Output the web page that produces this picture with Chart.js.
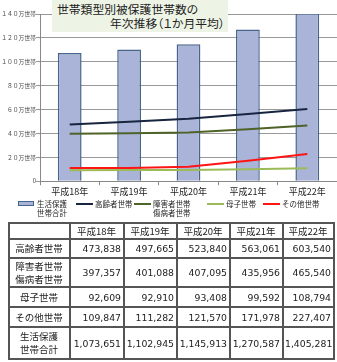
<!DOCTYPE html>
<html>
<head>
<meta charset="utf-8">
<script src="https://cdn.jsdelivr.net/npm/chart.js@4"></script>
<style>
  body { margin: 0; background: #fff; font-family: "Noto Sans CJK JP", sans-serif; }
  #wrap { position: relative; width: 337px; height: 362px; overflow: hidden; }
  #chartBox { position: absolute; left: 0; top: 0; width: 337px; height: 200px; }
  #title {
    position: absolute; left: 52px; top: 0; width: 176px; height: 32px;
    background: #edf4e6; color: #222; font-size: 11.8px; line-height: 14px;
    font-feature-settings: "palt";
  }
  #title div { position: absolute; white-space: nowrap; }
  #legend { position: absolute; left: 0; top: 199px; width: 337px; height: 24px; font-size: 7.5px; color: #222; }
  .item { position: absolute; top: 0; line-height: 9px; }
  .sw { position: absolute; top: 4px; width: 17px; height: 2px; }
  .swbar { position: absolute; top: 2px; width: 14px; height: 3px; border: 1px solid; }
  table {
    position: absolute; left: 8px; top: 222px; border-collapse: collapse; table-layout: fixed;
    border: 1px solid #000; font-size: 9.3px; color: #222;
  }
  td { border: 2px solid #555; padding: 0 2px 0 1px; overflow: hidden; white-space: nowrap; }
  td.num { text-align: right; font-family: "DejaVu Sans", sans-serif; }
  td.lab { text-align: center; font-size: 9.5px; line-height: 13px; }
  td.head { text-align: center; font-size: 9.5px; line-height: 12px; }
</style>
</head>
<body>
<div id="wrap">
  <div id="chartBox"><canvas id="kChart"></canvas></div>
  <div id="title">
    <div style="left:5px; top:2px">世帯類型別被保護世帯数の</div>
    <div style="left:58px; top:16px">年次推移（１か月平均）</div>
  </div>
  <div id="legend"></div>
  <table id="tbl"></table>
</div>
<script>
// fiscal years
const years = ["平成18年", "平成19年", "平成20年", "平成21年", "平成22年"];

// households per month (average)
const elderly = [473838, 497665, 523840, 563061, 603540];
const disabled = [397357, 401088, 407095, 435956, 465540];
const singleMother = [92609, 92910, 93408, 99592, 108794];
const others = [109847, 111282, 121570, 171978, 227407];
const total = [1073651, 1102945, 1145913, 1270587, 1405281];

const yTickLabels = ["0", "２０万世帯", "４０万世帯", "６０万世帯", "８０万世帯",
  "１００万世帯", "１２０万世帯", "１４０万世帯"];

// legend / table names
const seriesNames = [["生活保護", "世帯合計"], ["高齢者世帯"], ["障害者世帯", "傷病者世帯"], ["母子世帯"], ["その他世帯"]];
const seriesColors = ["#aab4d8", "#17253f", "#4f6228", "#9bbb59", "#ff1414"];

const lineSet = (i, data) => ({
  type: "line",
  label: seriesNames[i].join(""),
  data: data,
  borderColor: seriesColors[i],
  backgroundColor: seriesColors[i],
  borderWidth: 2,
  pointRadius: 0,
  fill: false,
  order: 1
});

const ctx = document.getElementById("kChart").getContext("2d");

new Chart(ctx, {
  type: "bar",
  data: {
    labels: years,
    datasets: [
      {
        label: seriesNames[0].join(""),
        data: total,
        backgroundColor: seriesColors[0],
        borderColor: "#47658a",
        borderWidth: { top: 1.5, left: 1.5, right: 1.5, bottom: 0 },
        barPercentage: 0.4,
        categoryPercentage: 1,
        order: 2
      },
      lineSet(1, elderly),
      lineSet(2, disabled),
      lineSet(3, singleMother),
      lineSet(4, others)
    ]
  },
  options: {
    responsive: true,
    maintainAspectRatio: false,
    animation: false,
    layout: { padding: { top: 14, right: 0, left: 0, bottom: 2 } },
    plugins: { legend: { display: false }, tooltip: { enabled: false } },
    scales: {
      x: {
        grid: { drawOnChartArea: false, tickLength: 4, color: "#888", offset: true },
        border: { color: "#888" },
        ticks: { color: "#222", font: { size: 9, family: "Noto Sans CJK JP" }, padding: 1 }
      },
      y: {
        min: 0,
        max: 1400000,
        afterFit: s => { s.width = 40; },
        grid: { color: "#999", tickLength: 4 },
        border: { color: "#888" },
        ticks: {
          stepSize: 200000,
          color: "#444",
          padding: 0,
          font: { size: 5.8, family: "Noto Sans CJK JP" },
          callback: (v, i) => yTickLabels[i]
        }
      }
    }
  }
});

// legend under the plot
const legendX = [18, 76, 134, 207, 263];
const legend = document.getElementById("legend");
seriesNames.forEach((name, i) => {
  const item = document.createElement("div");
  item.className = "item";
  item.style.left = legendX[i] + "px";
  const sw = document.createElement("div");
  if (i === 0) {
    sw.className = "swbar";
    sw.style.background = seriesColors[0];
    sw.style.borderColor = "#47658a";
  } else {
    sw.className = "sw";
    sw.style.background = seriesColors[i];
  }
  item.appendChild(sw);
  const txt = document.createElement("div");
  txt.style.marginLeft = "19px";
  txt.style.textAlign = "center";
  txt.innerHTML = name.join("<br>");
  item.appendChild(txt);
  legend.appendChild(item);
});

// value table
const fmt = v => v.toLocaleString("en-US");
const rows = [[seriesNames[1], elderly], [seriesNames[2], disabled], [seriesNames[3], singleMother],
  [seriesNames[4], others], [seriesNames[0], total]];
const rowHeights = [19, 29, 20, 20, 32];
const colWidths = [61, 54, 53, 53, 53, 51];
let html = "<colgroup>" + colWidths.map(w => "<col style='width:" + w + "px'>").join("") + "</colgroup>";
html += "<tr style='height:16px'><td></td>";
years.forEach(y => { html += "<td class='head'>" + y + "</td>"; });
html += "</tr>";
rows.forEach((r, i) => {
  html += "<tr style='height:" + rowHeights[i] + "px'><td class='lab'>" + r[0].join("<br>") + "</td>";
  r[1].forEach(v => { html += "<td class='num'>" + fmt(v) + "</td>"; });
  html += "</tr>";
});
document.getElementById("tbl").innerHTML = html;
document.getElementById("tbl").style.width = colWidths.reduce((a, b) => a + b, 0) + "px";
</script>
</body>
</html>
